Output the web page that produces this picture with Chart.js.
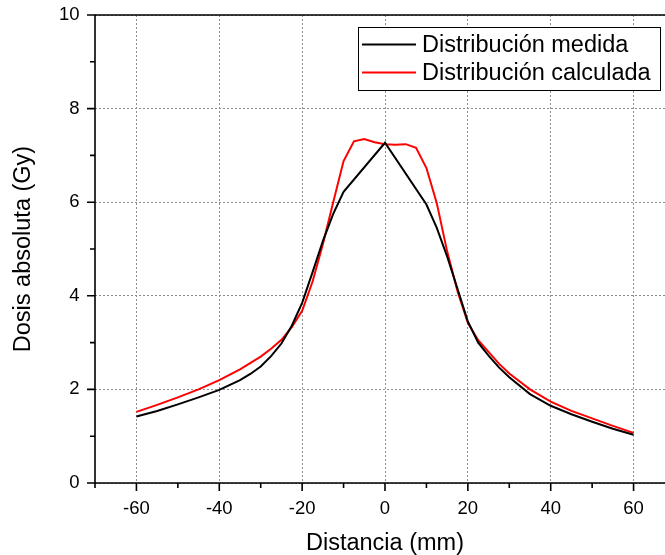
<!DOCTYPE html>
<html>
<head>
<meta charset="utf-8">
<script src="https://cdn.jsdelivr.net/npm/chart.js@4.4.1/dist/chart.umd.min.js"></script>
<style>
  html, body { margin: 0; padding: 0; background: #fff; overflow: hidden; }
  #wrap { width: 690px; height: 555px; }
</style>
</head>
<body>
<div id="wrap"><canvas id="c" width="690" height="555"></canvas></div>
<script>
// ---- data ----
const measuredX = [-60,-55,-50,-45,-40,-35,-32.5,-30,-27.5,-25,-22.5,-20,-17.5,-15,-12.5,-10,0,10,12.5,15,17.5,20,22.5,25,27.5,30,35,40,45,50,55,60];
const measuredY = [1.42,1.54,1.68,1.83,1.99,2.20,2.33,2.49,2.71,2.98,3.36,3.85,4.50,5.17,5.75,6.22,7.27,5.95,5.45,4.84,4.15,3.45,3.00,2.72,2.47,2.26,1.90,1.65,1.47,1.31,1.16,1.03];

const calcX = [-60,-55,-50,-45,-40,-35,-30,-27.5,-25,-22.5,-20,-17.5,-15,-12.5,-10,-7.5,-5,-2.5,0,2.5,5,7.5,10,12.5,15,17.5,20,22.5,25,27.5,30,35,40,45,50,55,60];
const calcY = [1.52,1.67,1.83,2.00,2.20,2.43,2.70,2.87,3.06,3.33,3.68,4.30,5.10,6.00,6.88,7.30,7.35,7.28,7.24,7.23,7.24,7.16,6.73,5.98,4.95,4.10,3.42,3.05,2.80,2.55,2.34,2.00,1.74,1.54,1.38,1.22,1.07];

const seriesLabels = ['Distribución medida', 'Distribución calculada'];
const xMajorTicks = [-60,-40,-20,0,20,40,60];
const xMinorTicks = [-70,-50,-30,-10,10,30,50,70];
const yMajorTicks = [0,2,4,6,8,10];
const yMinorTicks = [1,3,5,7,9];
const xTitle = 'Distancia (mm)';
const yTitle = 'Dosis absoluta (Gy)';

const FONT = '"Liberation Sans", Arial, Helvetica, sans-serif';

const toPts = (xs, ys) => xs.map((x, i) => ({x: x, y: ys[i]}));

const framePlugin = {
  id: 'frame',
  afterDatasetsDraw(chart) {
    const {ctx, chartArea: a, scales: {x, y}} = chart;
    ctx.save();
    ctx.strokeStyle = '#000';
    ctx.lineWidth = 1.6;
    ctx.beginPath();
    ctx.rect(a.left, a.top, a.right - a.left, a.bottom - a.top);
    ctx.stroke();
    ctx.beginPath();
    xMajorTicks.forEach(v => { const p = x.getPixelForValue(v); ctx.moveTo(p, a.bottom); ctx.lineTo(p, a.bottom + 8); });
    xMinorTicks.forEach(v => { const p = x.getPixelForValue(v); ctx.moveTo(p, a.bottom); ctx.lineTo(p, a.bottom + 5); });
    yMajorTicks.forEach(v => { const p = y.getPixelForValue(v); ctx.moveTo(a.left, p); ctx.lineTo(a.left - 8, p); });
    yMinorTicks.forEach(v => { const p = y.getPixelForValue(v); ctx.moveTo(a.left, p); ctx.lineTo(a.left - 5, p); });
    ctx.stroke();
    ctx.restore();
  }
};

const legendPlugin = {
  id: 'boxLegend',
  afterDraw(chart) {
    const {ctx} = chart;
    const bx = 358, by = 27, bw = 302, bh = 63;
    ctx.save();
    ctx.fillStyle = '#fff';
    ctx.fillRect(bx, by, bw, bh);
    ctx.strokeStyle = '#000';
    ctx.lineWidth = 1;
    ctx.strokeRect(bx + 0.5, by + 0.5, bw, bh);
    ctx.font = '23.5px ' + FONT;
    ctx.textBaseline = 'middle';
    ctx.textAlign = 'left';
    chart.data.datasets.forEach((ds, i) => {
      const cy = by + 17.5 + i * 28;
      ctx.strokeStyle = ds.borderColor;
      ctx.lineWidth = 2;
      ctx.beginPath();
      ctx.moveTo(362, cy);
      ctx.lineTo(416, cy);
      ctx.stroke();
      ctx.fillStyle = '#000';
      ctx.fillText(ds.label, 422, cy + 1);
    });
    ctx.restore();
  }
};

new Chart(document.getElementById('c'), {
  type: 'line',
  data: {
    datasets: [
      { label: seriesLabels[0], data: toPts(measuredX, measuredY), borderColor: '#000000', borderWidth: 2, pointRadius: 0, tension: 0, fill: false },
      { label: seriesLabels[1], data: toPts(calcX, calcY), borderColor: '#ff0000', borderWidth: 2, pointRadius: 0, tension: 0, fill: false }
    ]
  },
  options: {
    responsive: false,
    animation: false,
    devicePixelRatio: 1,
    layout: { padding: { left: 0, top: 15, right: 15, bottom: 0 } },
    plugins: { legend: { display: false }, tooltip: { enabled: false } },
    scales: {
      x: {
        type: 'linear',
        min: -70, max: 70,
        afterFit(s) { s.height = 72; s.paddingLeft = 0; s.paddingRight = 0; },
        afterBuildTicks(s) { s.ticks = xMajorTicks.map(v => ({value: v})); },
        grid: { color: '#8c8c8c', lineWidth: 1, drawTicks: false },
        border: { display: false, dash: [2, 2] },
        ticks: { color: '#000', font: { family: FONT, size: 18.5 }, padding: 15, maxRotation: 0, autoSkip: false },
        title: { display: true, text: xTitle, color: '#000', font: { family: FONT, size: 23.5, lineHeight: 1 }, padding: { top: 0, bottom: 0 } }
      },
      y: {
        type: 'linear',
        min: 0, max: 10,
        afterFit(s) { s.width = 95; s.paddingTop = 0; s.paddingBottom = 0; },
        afterBuildTicks(s) { s.ticks = yMajorTicks.map(v => ({value: v})); },
        grid: { color: '#8c8c8c', lineWidth: 1, drawTicks: false },
        border: { display: false, dash: [2, 2] },
        ticks: { color: '#000', font: { family: FONT, size: 18.5 }, padding: 15.5, autoSkip: false },
        title: { display: true, text: yTitle, color: '#000', font: { family: FONT, size: 23.5, lineHeight: 1 }, padding: { top: 11.5, bottom: 0 } }
      }
    }
  },
  plugins: [framePlugin, legendPlugin]
});
</script>
</body>
</html>
